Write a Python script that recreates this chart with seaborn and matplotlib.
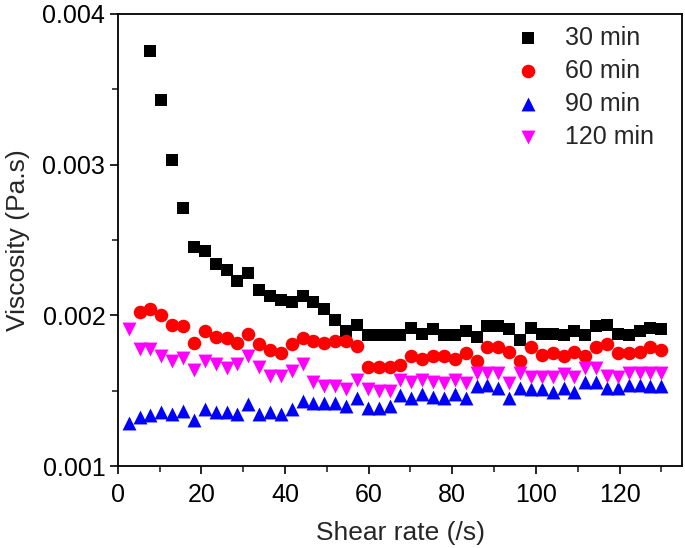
import numpy as np
import pandas as pd
import matplotlib
matplotlib.use("Agg")
import matplotlib.pyplot as plt
import seaborn as sns
from matplotlib.ticker import MultipleLocator, FormatStrFormatter

# shear rate grid (step 2.6 /s)
taxa = [round(2.6 * k, 1) for k in range(1, 51)]

# viscosidade (Pa.s) por tempo
visc_30 = [0.00375, 0.00343, 0.00303, 0.00271, 0.002455, 0.00243, 0.00234, 0.00230,
           0.00223, 0.00228, 0.00217, 0.00213, 0.00210, 0.00209, 0.00213, 0.00209,
           0.00204, 0.00197, 0.00190, 0.00194, 0.00187, 0.00187,
           0.00187, 0.00187, 0.00192, 0.00188, 0.00191, 0.00187, 0.00187, 0.00190,
           0.00186, 0.00193, 0.00193, 0.00191, 0.00184, 0.00192, 0.00188, 0.00188,
           0.00187, 0.00190, 0.00187, 0.00193, 0.00194, 0.00188, 0.00187, 0.00190,
           0.00192, 0.00191]
visc_60 = [0.00202, 0.00204, 0.00200, 0.00194, 0.00193, 0.00182, 0.00190, 0.00186,
           0.00185, 0.00182, 0.00188, 0.00181, 0.00177, 0.00175, 0.00181, 0.00185,
           0.00183, 0.00182, 0.00183, 0.00183, 0.00180, 0.00166, 0.00166,
           0.00166, 0.00167, 0.00173, 0.00171, 0.00173, 0.00173, 0.00171, 0.00175,
           0.00170, 0.00179, 0.00179, 0.00176, 0.00170, 0.00179, 0.00174, 0.00175,
           0.00173, 0.00176, 0.00173, 0.00179, 0.00181, 0.00175, 0.00175, 0.00176,
           0.00179, 0.00177]
visc_90 = [0.00129, 0.00133, 0.00134, 0.00136, 0.00135, 0.00137, 0.00131, 0.00138,
           0.00136, 0.00136, 0.00135, 0.00141, 0.00135, 0.00136, 0.00135, 0.00138,
           0.00143, 0.00142, 0.00142, 0.00142, 0.00140, 0.00145, 0.00139, 0.00139,
           0.00140, 0.00147, 0.00145, 0.00148, 0.00146, 0.00145, 0.00148, 0.00145,
           0.00153, 0.00154, 0.00152, 0.00145, 0.00152, 0.00151, 0.00151, 0.00149,
           0.00152, 0.00149, 0.00156, 0.00156, 0.00152, 0.00152, 0.00154, 0.00154,
           0.00153, 0.00153]
visc_120 = [0.00191, 0.00178, 0.00178, 0.00173, 0.00170, 0.00172, 0.00164, 0.00170,
            0.00168, 0.00165, 0.00168, 0.00173, 0.00166, 0.00160, 0.00160, 0.00163,
            0.00168, 0.00156, 0.00153, 0.00153, 0.00151, 0.00157, 0.00151, 0.00150,
            0.00150, 0.00157, 0.00156, 0.00157, 0.00156, 0.00155, 0.00157, 0.00155,
            0.00162, 0.00162, 0.00162, 0.00155, 0.00162, 0.00159, 0.00159, 0.00159,
            0.00161, 0.00159, 0.00165, 0.00165, 0.00160, 0.00159, 0.00162, 0.00162,
            0.00162, 0.00162]

series = [
    ("30 min", taxa[2:], visc_30, "s", "black", 78),
    ("60 min", taxa[1:], visc_60, "o", "red", 95),
    ("90 min", taxa, visc_90, "^", "blue", 100),
    ("120 min", taxa, visc_120, "v", "magenta", 100),
]

sns.set_theme(style="ticks")
plt.rcParams["font.family"] = ["Liberation Sans", "DejaVu Sans"]

fig = plt.figure(figsize=(6.85, 5.48), dpi=100)
ax = fig.add_axes([0.172, 0.149, 0.824, 0.826])

for nome, x, y, marcador, cor, tam in series:
    df = pd.DataFrame({"Shear rate": x, "Viscosity": y})
    sns.scatterplot(data=df, x="Shear rate", y="Viscosity", marker=marcador,
                    color=cor, s=tam, linewidth=0, label=nome, ax=ax)

ax.set_xlim(0, 135)
ax.set_ylim(0.001, 0.004)
ax.xaxis.set_major_locator(MultipleLocator(20))
ax.xaxis.set_minor_locator(MultipleLocator(10))
ax.yaxis.set_major_locator(MultipleLocator(0.001))
ax.yaxis.set_minor_locator(MultipleLocator(0.0005))
ax.yaxis.set_major_formatter(FormatStrFormatter("%.3f"))
ax.tick_params(which="major", direction="out", length=6, width=1.2, labelsize=18,
               colors="black", top=False, right=False, pad=3)
ax.tick_params(axis="x", which="major", pad=6)
ax.tick_params(which="minor", direction="out", length=4, width=1.2,
               top=False, right=False)
for lado in ax.spines.values():
    lado.set_linewidth(1.3)
    lado.set_color("black")

ax.set_xlabel("Shear rate (/s)", fontsize=19, labelpad=10)
ax.set_ylabel("Viscosity (Pa.s)", fontsize=19, labelpad=9)

ax.legend(loc="upper left", frameon=False, fontsize=18, handletextpad=0.5,
          labelspacing=0.36, borderaxespad=0.0, bbox_to_anchor=(0.664, 0.995),
          handlelength=2.0, markerscale=1.0)

fig.savefig("out.png", dpi=100)
